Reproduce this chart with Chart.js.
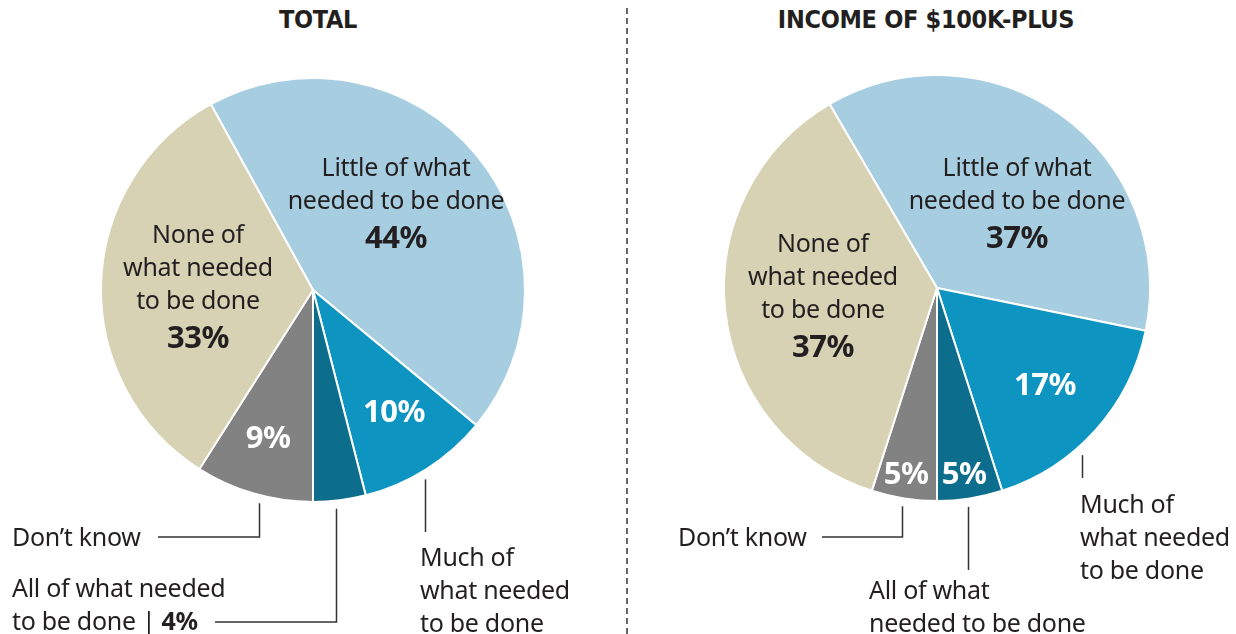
<!DOCTYPE html>
<html>
<head>
<meta charset="utf-8">
<script src="https://cdn.jsdelivr.net/npm/chart.js@4"></script>
<style>
  body { margin: 0; background: #fff; }
  #wrap { position: relative; width: 1236px; height: 634px; overflow: hidden; font-family: "Noto Sans", sans-serif; color: #231f20; }
  .box { position: absolute; top: 0; }
  .title { position: absolute; top: 5px; font-family: "DejaVu Sans Condensed", sans-serif; font-weight: bold; font-size: 25px; text-align: center; transform: translateX(-50%); white-space: nowrap; letter-spacing: -0.3px; }
  .lbl { position: absolute; font-size: 25px; line-height: 33px; letter-spacing: -0.3px; white-space: nowrap; }
  .lbl.c { text-align: center; transform: translateX(-50%); }
  .lbl b { font-weight: bold; }
  .pct { font-size: 31px; font-weight: bold; line-height: 40px; letter-spacing: -0.5px; }
  .divider { position: absolute; left: 626px; top: 8px; height: 626px; border-left: 2px dashed #666; }
</style>
</head>
<body>
<div id="wrap">
  <div class="divider"></div>
  <div class="title" style="left:318px">TOTAL</div>
  <div class="title" style="left:926px">INCOME OF $100K-PLUS</div>
  <div class="box" style="left:0;width:620px;height:634px"><canvas id="pie1"></canvas></div>
  <div class="box" style="left:628px;width:608px;height:634px"><canvas id="pie2"></canvas></div>
</div>
<script>
const categories = ["Little of what needed to be done", "Much of what needed to be done", "All of what needed to be done", "Don’t know", "None of what needed to be done"];
const totalValues = [44, 10, 4, 9, 33];
const incomeValues = [37, 17, 5, 5, 37];
const sliceColors = ["#a6cde0", "#0e94c0", "#0d6d8d", "#828283", "#d7d2b4"];

// leader lines: slice index -> [where along the slice (0..1), end y, end x of horizontal part or null]
const leaders1 = { 3: [0.44, 537, 158], 2: [0.58, 622, 215], 1: [0.55, 532, null] };
const leaders2 = { 3: [0.51, 537, 822 - 628], 2: [0.55, 570, null], 1: [0.62, 478, null] };

const leaderPlugin = {
  id: 'leaders',
  afterDraw(chart, args, opts) {
    const ctx = chart.ctx;
    const meta = chart.getDatasetMeta(0);
    ctx.save();
    ctx.strokeStyle = '#333';
    ctx.lineWidth = 1.5;
    Object.keys(opts.lines).forEach(k => {
      const arc = meta.data[k];
      const [f, ey, ex] = opts.lines[k];
      const a = arc.startAngle + (arc.endAngle - arc.startAngle) * f;
      const x = Math.round(arc.x + Math.cos(a) * (arc.outerRadius + 8)) + 0.5;
      const y = arc.y + Math.sin(a) * (arc.outerRadius + 8);
      ctx.beginPath();
      ctx.moveTo(x, y);
      ctx.lineTo(x, ey);
      if (ex !== null) ctx.lineTo(ex, ey);
      ctx.stroke();
    });
    ctx.restore();
  }
};

function makePie(id, values, rotation, padding, lines) {
  return new Chart(document.getElementById(id), {
    type: 'pie',
    data: {
      labels: categories,
      datasets: [{ data: values, backgroundColor: sliceColors, borderColor: '#fff', borderWidth: 2 }]
    },
    options: {
      responsive: true,
      maintainAspectRatio: false,
      animation: false,
      rotation: rotation,
      layout: { padding: padding },
      plugins: { legend: { display: false }, tooltip: { enabled: false }, leaders: { lines: lines } }
    },
    plugins: [leaderPlugin]
  });
}

makePie('pie1', totalValues, -28.8, { left: 100, right: 94, top: 77, bottom: 131 }, leaders1);
makePie('pie2', incomeValues, -30.3, { left: 95, right: 85, top: 74, bottom: 132 }, leaders2);

// text labels (page positions)
const pct = v => v + '%';
const labels = [
  { x: 396, y: 150, c: true, html: 'Little of what<br>needed to be done<br><span class="pct">' + pct(totalValues[0]) + '</span>' },
  { x: 198, y: 217, c: true, html: 'None of<br>what needed<br>to be done<br><span class="pct">' + pct(totalValues[4]) + '</span>' },
  { x: 394, y: 390, c: true, html: '<span class="pct" style="color:#fff">' + pct(totalValues[1]) + '</span>' },
  { x: 268, y: 416, c: true, html: '<span class="pct" style="color:#fff">' + pct(totalValues[3]) + '</span>' },
  { x: 12, y: 520, html: categories[3] },
  { x: 12, y: 571, html: 'All of what needed<br>to be done | <b>' + pct(totalValues[2]) + '</b>' },
  { x: 420, y: 540, html: 'Much of<br>what needed<br>to be done' },
  { x: 1017, y: 150, c: true, html: 'Little of what<br>needed to be done<br><span class="pct">' + pct(incomeValues[0]) + '</span>' },
  { x: 823, y: 226, c: true, html: 'None of<br>what needed<br>to be done<br><span class="pct">' + pct(incomeValues[4]) + '</span>' },
  { x: 1045, y: 363, c: true, html: '<span class="pct" style="color:#fff">' + pct(incomeValues[1]) + '</span>' },
  { x: 906, y: 452, c: true, html: '<span class="pct" style="color:#fff">' + pct(incomeValues[3]) + '</span>' },
  { x: 964, y: 452, c: true, html: '<span class="pct" style="color:#fff">' + pct(incomeValues[2]) + '</span>' },
  { x: 678, y: 520, html: categories[3] },
  { x: 869, y: 573, html: 'All of what<br>needed to be done' },
  { x: 1080, y: 487, html: 'Much of<br>what needed<br>to be done' }
];
const wrap = document.getElementById('wrap');
labels.forEach(l => {
  const d = document.createElement('div');
  d.className = 'lbl' + (l.c ? ' c' : '');
  d.style.left = l.x + 'px';
  d.style.top = l.y + 'px';
  d.innerHTML = l.html;
  wrap.appendChild(d);
});
</script>
</body>
</html>
